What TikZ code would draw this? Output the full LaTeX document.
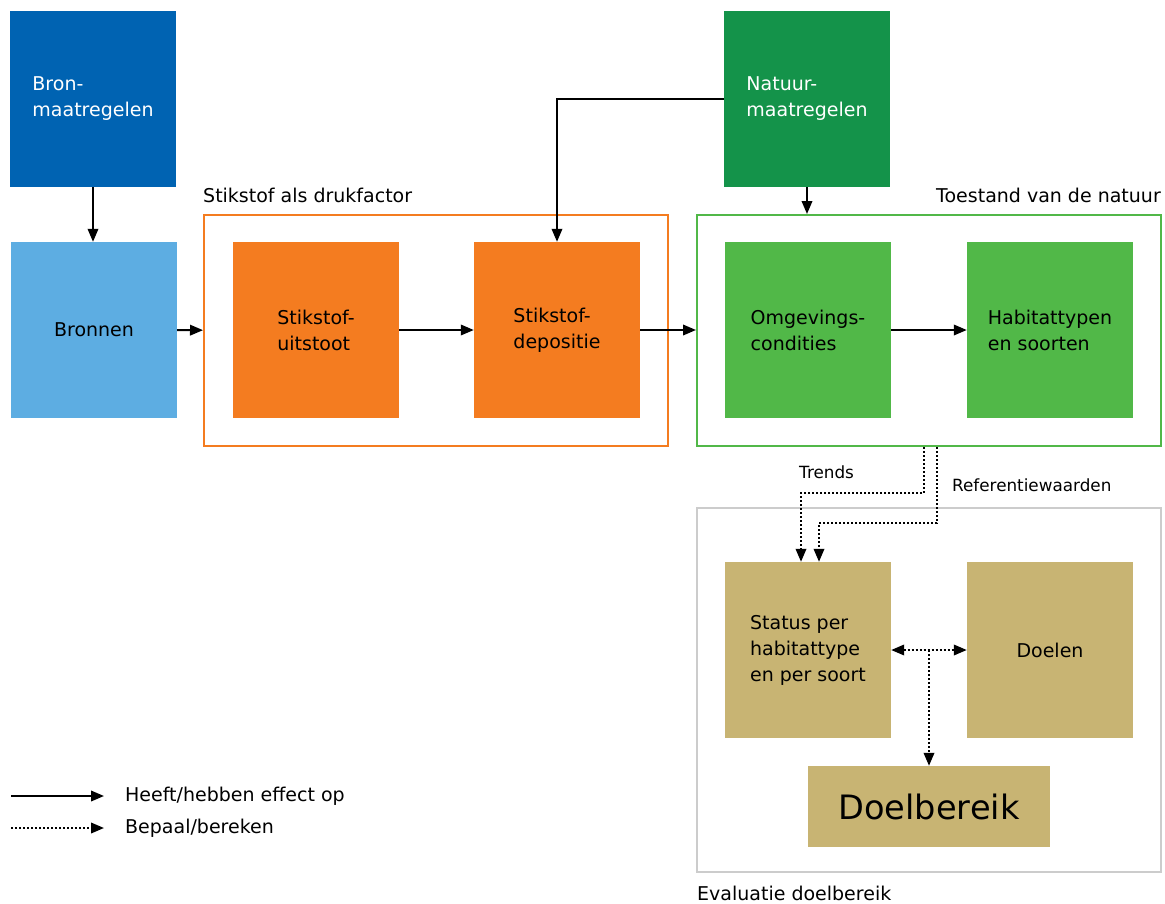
\documentclass[tikz,border=0pt]{standalone}
\usepackage{fontspec}
\setmainfont{DejaVu Sans}
\usetikzlibrary{arrows.meta}

\definecolor{bronblauw}{RGB}{0,99,178}
\definecolor{lichtblauw}{RGB}{93,173,226}
\definecolor{stikoranje}{RGB}{244,124,32}
\definecolor{natuurgroen}{RGB}{20,147,74}
\definecolor{lichtgroen}{RGB}{81,184,72}
\definecolor{evalbruin}{RGB}{200,180,115}
\definecolor{kadergrijs}{RGB}{204,204,204}

\begin{document}
\begin{tikzpicture}[
x=1pt, y=-1pt,
every node/.style={
	font=\fontsize{19}{26}\selectfont,
	inner sep=0pt,
},
]
% \draw [help lines] (0,0) grid (1165,903);
\useasboundingbox (0,0) rectangle (1165,903);

\tikzset{
	blok/.style={rectangle, minimum width=166pt, minimum height=176pt, align=left},
	kader/.style={draw, line width=2pt, minimum width=464pt},
	effect/.style={line width=2pt, -{Triangle[length=13pt,width=10.5pt]}},
	bepaal/.style={line width=2pt, dash pattern=on 2pt off 2pt, -{Triangle[length=13pt,width=10.5pt]}},
	klein/.style={font=\fontsize{16.8}{20}\selectfont},
}

% kaders
\node[kader, stikoranje, minimum height=231pt] (drukfactor) at (436,330.5) {};
\node[kader, lichtgroen, minimum height=231pt] (toestand) at (929,330.5) {};
\node[kader, kadergrijs, minimum height=364pt] (evaluatie) at (929,690) {};

\node[anchor=west] (drukfactorlabel) at (203,195) {Stikstof als drukfactor};
\node[anchor=east] (toestandlabel) at (1161,195) {Toestand van de natuur};
\node[anchor=west] (evaluatielabel) at (697,893) {Evaluatie doelbereik};

% blokken
\node[blok, fill=bronblauw, text=white] (bronmaatregelen) at (93,99) {Bron-\\maatregelen};
\node[blok, fill=lichtblauw] (bronnen) at (94,330) {Bronnen};
\node[blok, fill=stikoranje] (uitstoot) at (316,330) {Stikstof-\\uitstoot};
\node[blok, fill=stikoranje] (depositie) at (557,330) {Stikstof-\\depositie};
\node[blok, fill=natuurgroen, text=white] (natuurmaatregelen) at (807,99) {Natuur-\\maatregelen};
\node[blok, fill=lichtgroen] (omgeving) at (808,330) {Omgevings-\\condities};
\node[blok, fill=lichtgroen] (habitat) at (1050,330) {Habitattypen\\en soorten};
\node[blok, fill=evalbruin] (status) at (808,650) {Status per\\habitattype\\en per soort};
\node[blok, fill=evalbruin] (doelen) at (1050,650) {Doelen};
\node[rectangle, fill=evalbruin, minimum width=242pt, minimum height=81pt,
	font=\fontsize{33.6}{40}\selectfont] (doelbereik) at (929,806.5) {Doelbereik};

% pijlen
\draw[effect] (bronmaatregelen.south) -- (bronmaatregelen.south |- bronnen.north);
\draw[effect] (bronnen) -- (drukfactor);
\draw[effect] (uitstoot) -- (depositie);
\draw[effect] (depositie.east) -- (toestand.west |- depositie.east);
\draw[effect] (natuurmaatregelen.west) -| (depositie.north);
\draw[effect] (natuurmaatregelen.south) -- (natuurmaatregelen.south |- toestand.north);
\draw[effect] (omgeving) -- (habitat);

\draw[bepaal] ([xshift=-5pt]toestand.south) -- ++(0,46) -| ([xshift=-7pt]status.north);
\draw[bepaal] ([xshift=8pt]toestand.south) -- ++(0,76) -| ([xshift=11pt]status.north);
\node[klein, anchor=west] (trends) at (799,472) {Trends};
\node[klein, anchor=west] (referentie) at (952,485) {Referentiewaarden};

\draw[bepaal, {Triangle[length=13pt,width=10.5pt]}-{Triangle[length=13pt,width=10.5pt]}] (status) -- (doelen);
\draw[bepaal] (doelbereik.north |- status.east) -- (doelbereik.north);

% legenda
\coordinate (effectstart) at (11,796);
\coordinate (effecteind) at (104,796);
\coordinate (bepaalstart) at (11,828);
\coordinate (bepaaleind) at (104,828);
\draw[effect] (effectstart) -- (effecteind);
\draw[bepaal] (bepaalstart) -- (bepaaleind);
\node[anchor=west] (effecttekst) at (125,796) {Heeft/hebben effect op};
\node[anchor=west] (bepaaltekst) at (125,828) {Bepaal/bereken};

\end{tikzpicture}
\end{document}
